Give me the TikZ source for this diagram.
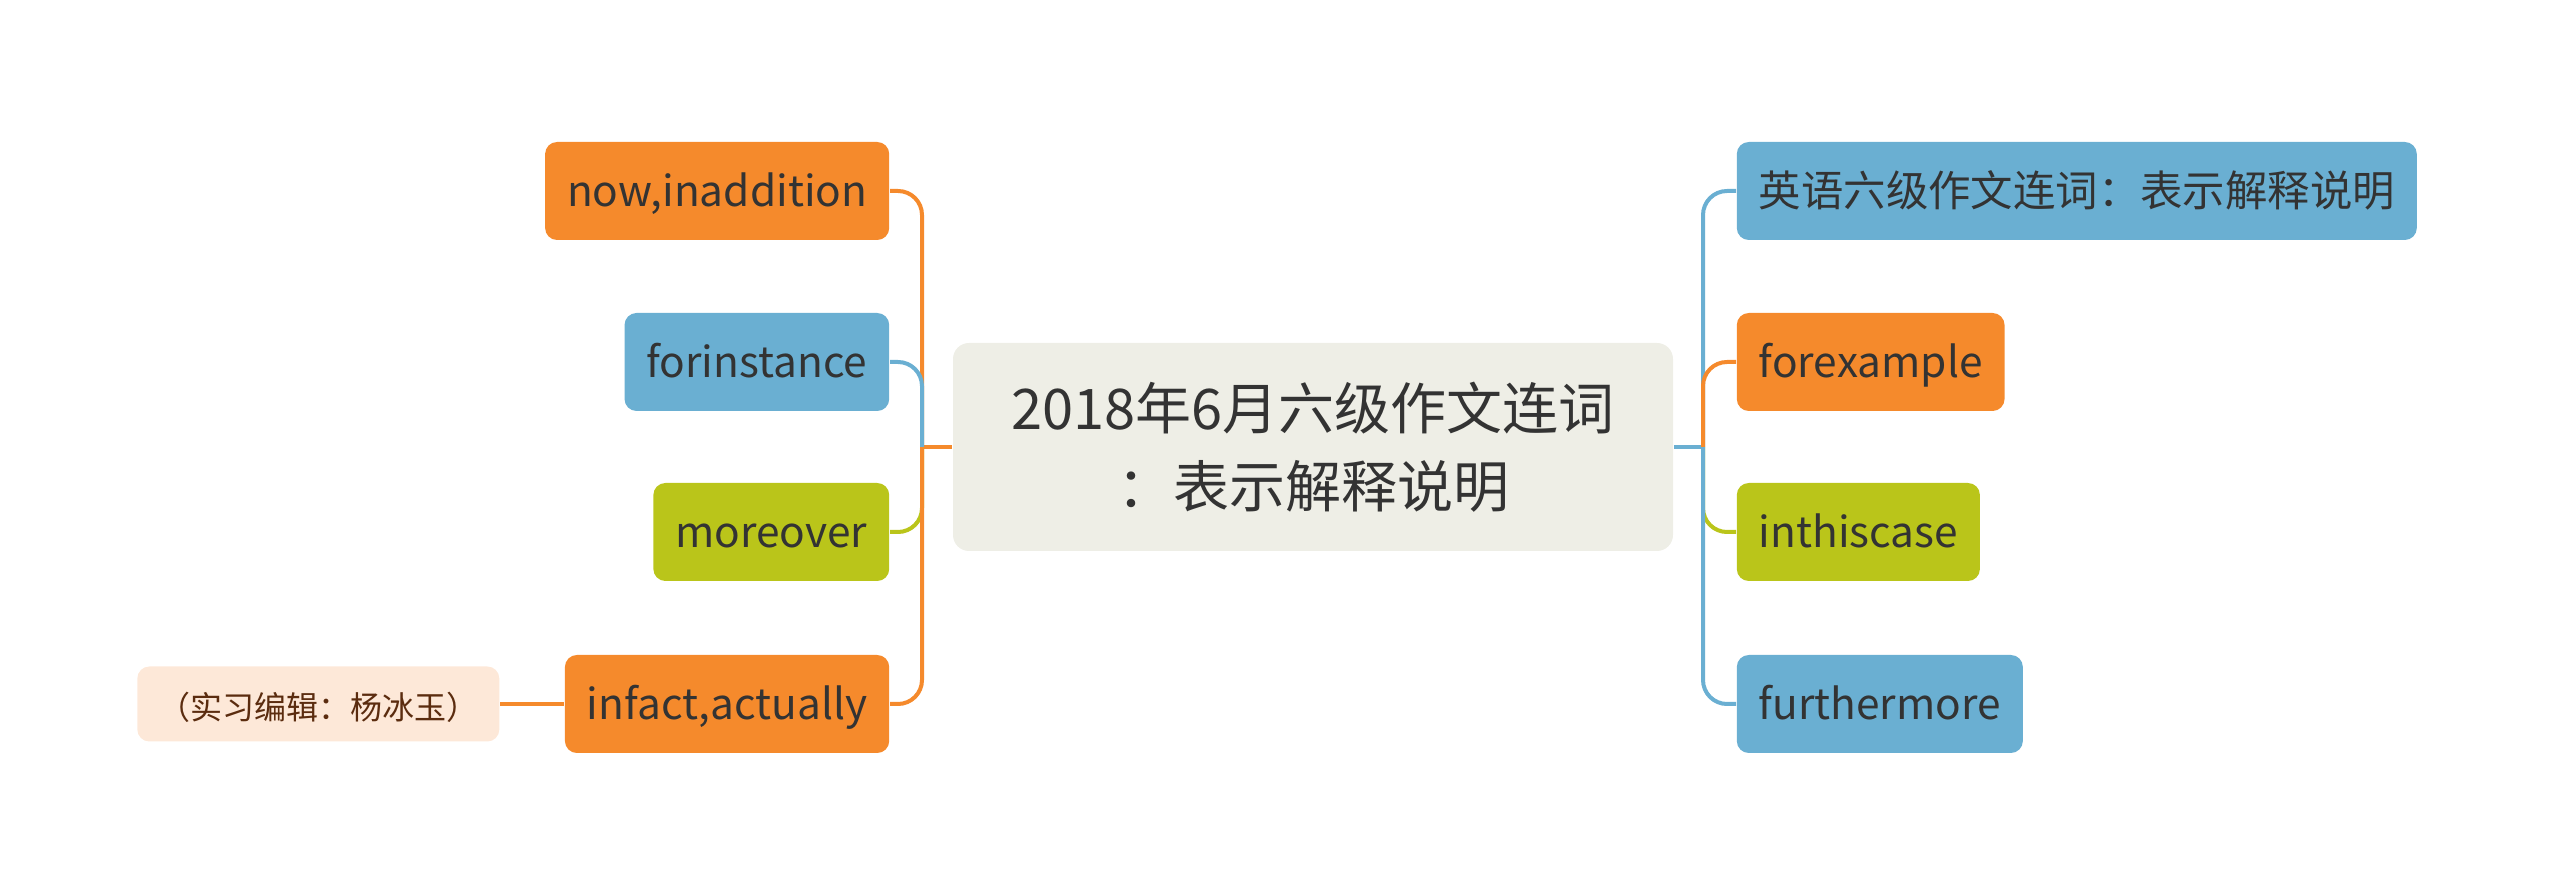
\documentclass[tikz,border=0pt]{standalone}
\usepackage{fontspec}
\setmainfont{Noto Sans CJK SC}
\usetikzlibrary{positioning,calc}
\definecolor{mmorange}{HTML}{F58A2C}
\definecolor{mmblue}{HTML}{6AAFD2}
\definecolor{mmgreen}{HTML}{BAC51A}
\definecolor{rootfill}{HTML}{EEEEE6}
\definecolor{notefill}{HTML}{FDE8D8}
\definecolor{notetext}{HTML}{5B2C0F}
\definecolor{txtgray}{HTML}{333333}

\begin{document}
\begin{tikzpicture}[x=0.25pt,y=-0.25pt,
  leaf/.style={rounded corners=3pt,minimum height=24.5pt,inner xsep=5.5pt,inner ysep=0pt,
    text height=0.9em,text depth=0.1em,font=\fontsize{10.6}{13}\selectfont,text=txtgray},
  link/.style={line width=1pt,rounded corners=6pt}]
\useasboundingbox (0,0) rectangle (2560,896);
% central topic
\node[fill=rootfill,rounded corners=4pt,minimum width=180pt,minimum height=52pt,align=center,
  font=\fontsize{14}{19.5}\selectfont,text=txtgray] (root) at (1313,447)
  {2018年6月六级作文连词\\：表示解释说明};
\coordinate (ljoint) at (922,447);
\coordinate (rjoint) at (1703,447);
\draw[link,mmorange] (root.west) -- (ljoint);
\draw[link,mmblue] (root.east) -- (rjoint);
% left branch
\foreach \y/\name/\txt/\col in {532/more/moreover/mmgreen,191/now/{now,inaddition}/mmorange,
  704/fact/{infact,actually}/mmorange,362/inst/forinstance/mmblue}{
\node[leaf,fill=\col,anchor=east] (\name) at (890,\y) {\txt};
\draw[link,\col] (ljoint) |- (\name.east);}
% right branch
\foreach \y/\name/\txt/\col in {532/case/inthiscase/mmgreen,191/title/英语六级作文连词：表示解释说明/mmblue,
  704/further/furthermore/mmblue,362/exam/forexample/mmorange}{
\node[leaf,fill=\col,anchor=west] (\name) at (1736,\y) {\txt};
\draw[link,\col] (rjoint) |- (\name.west);}
% editor note
\node[leaf,fill=notefill,text=notetext,minimum height=18.75pt,inner xsep=5.25pt,
  font=\fontsize{8}{10}\selectfont,left=16pt of fact] (note) {（实习编辑：杨冰玉）};
\draw[link,mmorange] (fact.west) -- (note.east);
\end{tikzpicture}
\end{document}
